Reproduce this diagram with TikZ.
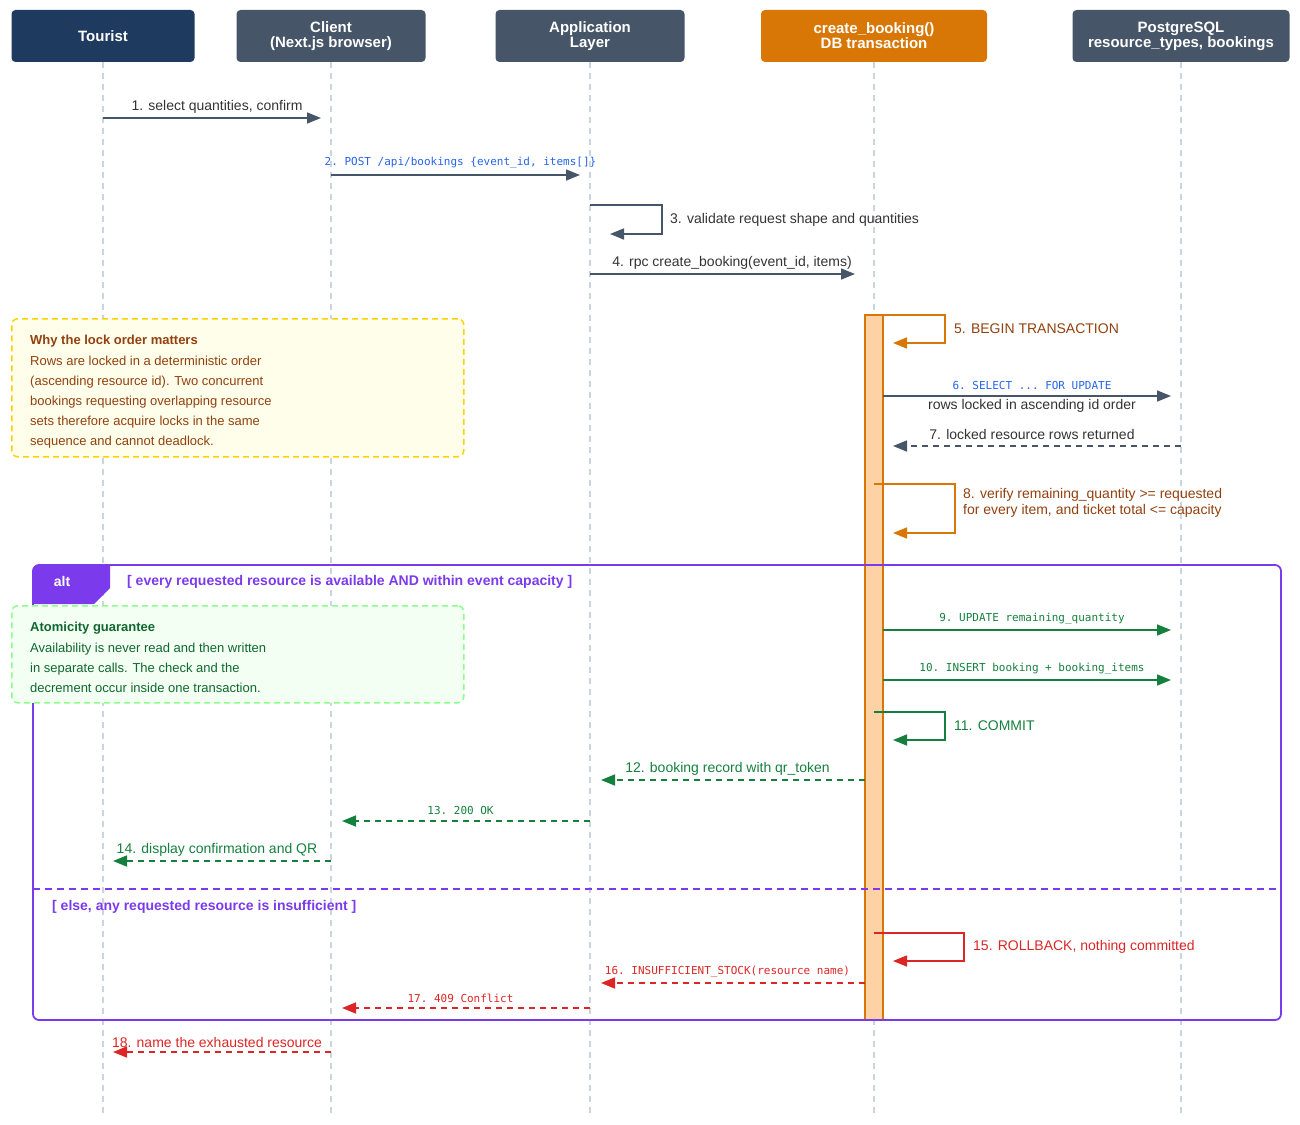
\documentclass[tikz,border=0pt]{standalone}
\usepackage{fontspec}
\setmainfont{Liberation Sans}
\setmonofont{DejaVu Sans Mono}
\usetikzlibrary{arrows.meta,positioning}
\definecolor{navy}{HTML}{1E3A5F}
\definecolor{slate}{HTML}{475569}
\definecolor{txorange}{HTML}{D97706}
\definecolor{brown}{HTML}{92400E}
\definecolor{okgreen}{HTML}{15803D}
\definecolor{badred}{HTML}{DC2626}
\definecolor{altpurple}{HTML}{7C3AED}
\definecolor{codeblue}{HTML}{2563EB}
\definecolor{lifegray}{HTML}{CBD5E1}
\newcommand{\px}[1]{\fontsize{#1}{#1}\selectfont}
\tikzset{
	head/.style={rounded corners=4pt,text=white,font=\px{15}\bfseries,align=center,minimum height=52pt,inner sep=0pt},
	life/.style={draw=lifegray,dashed,line width=1.2pt,dash pattern=on 6pt off 5pt},
	msg/.style={draw=slate,line width=1.6pt,-{Triangle[length=14pt,width=11pt]}},
	reply/.style={msg,dash pattern=on 6pt off 5pt},
	lbl/.style={font=\px{14},text=black!80,inner sep=2pt},
	code/.style={font=\ttfamily\px{11},text=codeblue,inner sep=2pt},
	note/.style={rounded corners=6pt,dashed,line width=1.5pt,dash pattern=on 6pt off 4pt}
}
\begin{document}
\begin{tikzpicture}[x=1pt,y=-1pt]
	\useasboundingbox (0,0) rectangle (1300,1124);
	% participants
	\node[head,fill=navy,minimum width=183pt] (tou) at (103,36) {Tourist};
	\node[head,fill=slate,minimum width=189pt] (cli) at (331,36) {Client\\(Next.js browser)};
	\node[head,fill=slate,minimum width=189pt] (app) at (590,36) {Application\\Layer};
	\node[head,fill=txorange,minimum width=226pt] (db) at (874,36) {create\_booking()\\DB transaction};
	\node[head,fill=slate,minimum width=217pt] (pg) at (1181,36) {PostgreSQL\\resource\_types, bookings};
	\foreach \p in {tou,cli,app,db,pg}
		\draw[life] (\p.south) -- (\p |- 0,1115);
	% notes
	\node[note,draw=yellow!70!orange,fill=yellow!8,minimum width=452pt,minimum height=138pt,anchor=north west] (why) at (11,318) {};
	\node[anchor=north west,align=left,text=brown,font=\px{13},inner sep=0pt] at (30,335)
		{\textbf{Why the lock order matters}\\[8pt]Rows are locked in a deterministic order\\[7pt](ascending resource id). Two concurrent\\[7pt]bookings requesting overlapping resource\\[7pt]sets therefore acquire locks in the same\\[7pt]sequence and cannot deadlock.};
	% activation
	\draw[txorange,fill=orange!35,line width=1.4pt] (865,315) rectangle (883,1020);
	% alt frame
	\draw[altpurple,line width=1.8pt,rounded corners=6pt] (33,565) rectangle (1281,1020);
	\fill[altpurple] (33,571) [rounded corners=6pt] -- (33,565) [sharp corners] -- (110,565) -- (110,588) -- (94,604) -- (33,604) -- cycle;
	\node[text=white,font=\px{14}\bfseries] (alt) at (62,581) {alt};
	\node[anchor=west,text=altpurple,font=\px{14}\bfseries,inner sep=0pt] at (127,582) {[ every requested resource is available AND within event capacity ]};
	\draw[altpurple,line width=1.5pt,dash pattern=on 7pt off 5pt] (33,889) -- (1281,889);
	\node[anchor=west,text=altpurple,font=\px{14}\bfseries,inner sep=0pt] at (52,907) {[ else, any requested resource is insufficient ]};
	\node[note,draw=green!45,fill=green!5,minimum width=452pt,minimum height=97pt,anchor=north west] (atom) at (11,605) {};
	\node[anchor=north west,align=left,text=okgreen!80!black,font=\px{13},inner sep=0pt] at (30,622)
		{\textbf{Atomicity guarantee}\\[8pt]Availability is never read and then written\\[7pt]in separate calls. The check and the\\[7pt]decrement occur inside one transaction.};
	% messages
	\draw[msg,shorten >=10pt] (tou |- 0,118) -- node[lbl,above=2pt] {1. select quantities, confirm} (cli |- 0,118);
	\draw[msg,shorten >=10pt] (cli |- 0,175) -- node[code,above=4pt] {2. POST /api/bookings \{event\_id, items[]\}} (app |- 0,175);
	\draw[msg,shorten >=10pt] (app |- 0,205) -- ++(72,0) -- ++(0,29) -- ++(-62,0);
	\node[lbl,anchor=west] at (668,220) {3. validate request shape and quantities};
	\draw[msg,shorten >=19pt] (app |- 0,274) -- node[lbl,above=2pt] {4. rpc create\_booking(event\_id, items)} (db |- 0,274);
	\draw[msg,draw=txorange,shorten >=10pt] (883,315) -- ++(62,0) -- ++(0,28) -- ++(-62,0);
	\node[lbl,anchor=west,text=brown] at (952,329) {5. BEGIN TRANSACTION};
	\draw[msg,shorten >=10pt] (883,396) -- node[code,above=4pt] {6. SELECT ... FOR UPDATE} node[lbl,below=1pt] {rows locked in ascending id order} (pg |- 0,396);
	\draw[reply,shorten >=10pt] (pg |- 0,446) -- node[lbl,above=4pt] {7. locked resource rows returned} (883,446);
	\draw[msg,draw=txorange,shorten >=10pt] (db |- 0,484) -- ++(81,0) -- ++(0,49) -- ++(-72,0);
	\node[lbl,anchor=north west,text=brown,align=left] at (961,486) {8. verify remaining\_quantity >= requested\\[2pt]for every item, and ticket total <= capacity};
	\draw[msg,draw=okgreen,shorten >=10pt] (883,630) -- node[code,text=okgreen,above=3pt] {9. UPDATE remaining\_quantity} (pg |- 0,630);
	\draw[msg,draw=okgreen,shorten >=10pt] (883,680) -- node[code,text=okgreen,above=3pt] {10. INSERT booking + booking\_items} (pg |- 0,680);
	\draw[msg,draw=okgreen,shorten >=10pt] (db |- 0,712) -- ++(71,0) -- ++(0,28) -- ++(-62,0);
	\node[lbl,anchor=west,text=okgreen] at (952,726) {11. COMMIT};
	\draw[reply,draw=okgreen,shorten >=11pt] (865,780) -- node[lbl,text=okgreen,above=2pt] {12. booking record with qr\_token} (app |- 0,780);
	\draw[reply,draw=okgreen,shorten >=11pt] (app |- 0,821) -- node[code,text=okgreen,above=4pt] {13. 200 OK} (cli |- 0,821);
	\draw[reply,draw=okgreen,shorten >=10pt] (cli |- 0,861) -- node[lbl,text=okgreen,above=2pt] {14. display confirmation and QR} (tou |- 0,861);
	\draw[msg,draw=badred,shorten >=10pt] (db |- 0,933) -- ++(90,0) -- ++(0,28) -- ++(-81,0);
	\node[lbl,anchor=west,text=badred] at (971,947) {15. ROLLBACK, nothing committed};
	\draw[reply,draw=badred,shorten >=11pt] (865,983) -- node[code,text=badred,above=3pt] {16. INSUFFICIENT\_STOCK(resource name)} (app |- 0,983);
	\draw[reply,draw=badred,shorten >=11pt] (app |- 0,1008) -- node[code,text=badred,above=3pt] {17. 409 Conflict} (cli |- 0,1008);
	\draw[reply,draw=badred,shorten >=10pt] (cli |- 0,1052) -- node[lbl,text=badred,above=2pt] {18. name the exhausted resource} (tou |- 0,1052);
\end{tikzpicture}
\end{document}
